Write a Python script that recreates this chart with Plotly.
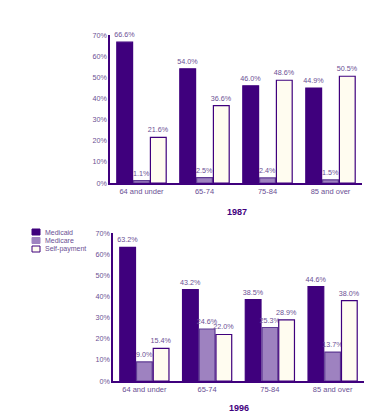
import plotly.graph_objects as go

categories = ["64 and under", "65-74", "75-84", "85 and over"]
medicaid_1987 = [66.6, 54.0, 46.0, 44.9]
medicare_1987 = [1.1, 2.5, 2.4, 1.5]
self_1987 = [21.6, 36.6, 48.6, 50.5]
medicaid_1996 = [63.2, 43.2, 38.5, 44.6]
medicare_1996 = [9.0, 24.6, 25.3, 13.7]
self_1996 = [15.4, 22.0, 28.9, 38.0]
years = ["1987", "1996"]
series_names = ["Medicaid", "Medicare", "Self-payment"]

W, H = 384, 418
DARK = "#3f007d"
MID = "#9e82c0"
LIGHT = "#fffcf0"
TXT = "#6b4f94"
FONT = "Liberation Sans, Arial, sans-serif"

fig = go.Figure()

styles = [(DARK, DARK), (MID, "#5e3a92"), (LIGHT, DARK)]

data = {
    "1987": [medicaid_1987, medicare_1987, self_1987],
    "1996": [medicaid_1996, medicare_1996, self_1996],
}

for yi, (yr, xa, ya) in enumerate([("1987", "x", "y"), ("1996", "x2", "y2")]):
    for si, name in enumerate(series_names):
        fill, line = styles[si]
        vals = data[yr][si]
        fig.add_trace(go.Bar(
            x=categories, y=vals, name=name,
            marker=dict(color=fill, line=dict(color=line, width=1.2)),
            text=[f"{v:.1f}%" for v in vals],
            textposition="outside", constraintext="none", cliponaxis=False,
            textfont=dict(size=7.2, color=TXT, family=FONT),
            xaxis=xa, yaxis=ya, showlegend=False,
            hoverinfo="skip",
        ))

axis_common = dict(showgrid=False, zeroline=False, showline=True, linecolor=DARK, linewidth=1.5,
                   ticks="", automargin=False)

# manual legend (compact, as in the reference)
shapes = []
annotations = []
leg_y = [232, 240.5, 249]
for i, name in enumerate(series_names):
    fill, line = styles[i]
    cy = leg_y[i]
    shapes.append(dict(type="rect", xref="paper", yref="paper",
                       x0=32 / W, x1=40 / W, y0=1 - (cy + 3) / H, y1=1 - (cy - 3) / H,
                       fillcolor=fill, line=dict(color=DARK if i != 1 else MID, width=1)))
    annotations.append(dict(text=name, x=43 / W, y=1 - cy / H, xref="paper", yref="paper",
                            xanchor="left", yanchor="middle", showarrow=False,
                            font=dict(size=7, color=TXT, family=FONT)))

annotations += [
    dict(text=f"<b>{years[0]}</b>", x=237 / W, y=1 - 212 / H, xref="paper", yref="paper",
         xanchor="center", yanchor="middle",
         showarrow=False, font=dict(size=9, color=DARK, family=FONT)),
    dict(text=f"<b>{years[1]}</b>", x=239 / W, y=1 - 408 / H, xref="paper", yref="paper",
         xanchor="center", yanchor="middle",
         showarrow=False, font=dict(size=9, color=DARK, family=FONT)),
]

xfont = dict(size=7.5, color=TXT, family=FONT)
yfont = dict(size=7.2, color=TXT, family=FONT)

fig.update_layout(
    width=W, height=H,
    margin=dict(l=0, r=0, t=0, b=0, autoexpand=False),
    paper_bgcolor="white", plot_bgcolor="white",
    barmode="group", bargap=0.2, bargroupgap=0.06,
    font=dict(family=FONT, size=8, color=TXT),
    showlegend=False,
    xaxis=dict(domain=[110 / W, 362 / W], anchor="y", tickfont=xfont, **axis_common),
    yaxis=dict(domain=[(H - 183) / H, (H - 35) / H], anchor="x", range=[0, 70], dtick=10,
               ticksuffix="%", tickfont=yfont, **axis_common),
    xaxis2=dict(domain=[113 / W, 364 / W], anchor="y2", tickfont=xfont, **axis_common),
    yaxis2=dict(domain=[(H - 381) / H, (H - 233) / H], anchor="x2", range=[0, 70], dtick=10,
                ticksuffix="%", tickfont=yfont, **axis_common),
    shapes=shapes,
    annotations=annotations,
)

fig.write_html(
    "out.html",
    config={"displayModeBar": False},
    post_script="document.body.style.margin='0';document.body.style.overflow='hidden';",
)
